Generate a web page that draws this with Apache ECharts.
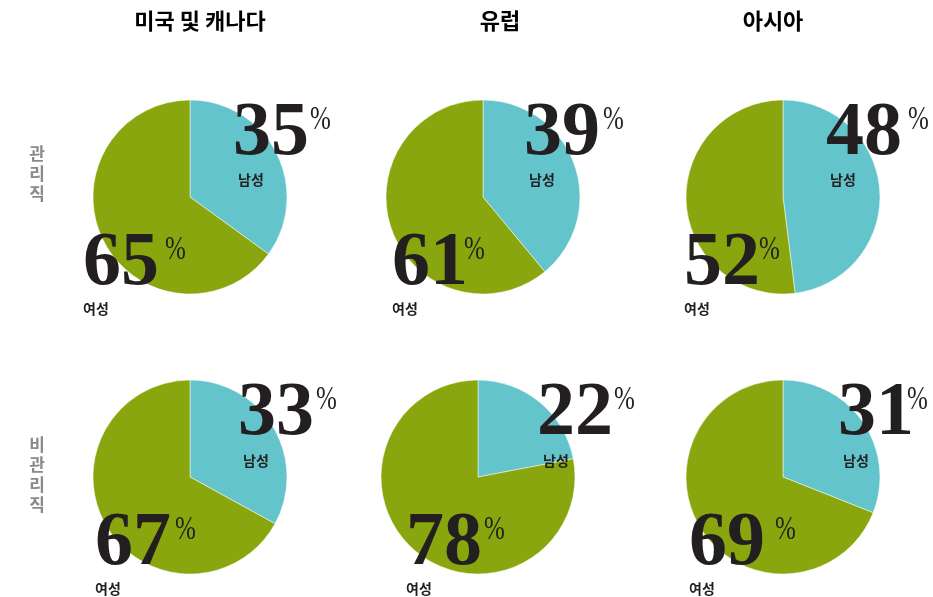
<!DOCTYPE html>
<html>
<head>
<meta charset="utf-8">
<script src="https://cdn.jsdelivr.net/npm/echarts@6/dist/echarts.min.js"></script>
<style>
html,body{margin:0;padding:0;background:#fff;}
#chart{width:933px;height:597px;}
</style>
</head>
<body>
<div id="chart"></div>
<script>
// 지역, 직급, 성별 비율
var regions=['미국 및 캐나다','유럽','아시아'];
var levels=['관리직','비관리직'];
var maleShare=[[35,39,48],[33,22,31]];
var femaleShare=[[65,61,52],[67,78,69]];
var maleName='남성';
var femaleName='여성';

var colorMale='#63c4cb';
var colorFemale='#8aa60e';
var ink='#231f20';

// 레이아웃
var pieX=[[190,483,783],[190,478,783]];
var pieY=[197,477];
var radius=97;
var titleX=[200,500,773];
var maleNumX=[[233,524,826],[238,537,838]];
var malePctX=[[310,603,908],[316,614,907]];
var maleNumY=[165,445];
var maleLabX=[[251,542,843],[256,556,856]];
var maleLabY=[180,461];
var femNumX=[[83,392,684],[95,406,689]];
var femPctX=[[165,464,759],[175,484,775]];
var femNumY=[295,575];
var femLabY=[309,589];
var levelY=[174,475];

var chart=echarts.init(document.getElementById('chart'));

var series=[];
var graphic=[];

function numText(x,y,v){
	return {
		type:'text',
		x:x,y:y,
		z:10,
		style:{
			text:'{n|'+v+'}',
			align:'left',
			verticalAlign:'bottom',
			rich:{
				n:{fontSize:76,fontFamily:'Liberation Serif',fontWeight:'bold',fill:ink,color:ink,lineHeight:62}
			}
		}
	};
}
function pctText(x,y){
	return {
		type:'text',
		x:x,y:y,
		z:10,
		scaleY:1.35,
		style:{
			text:'%',
			align:'left',
			verticalAlign:'top',
			font:'normal 25px "Liberation Serif"',
			fill:ink
		}
	};
}
function labText(x,y,s,align){
	return {
		type:'text',
		x:x,y:y,
		z:10,
		style:{
			text:s,
			align:align,
			verticalAlign:'middle',
			font:'bold 14px "Noto Sans CJK KR"',
			fill:ink
		}
	};
}

for(var r=0;r<levels.length;r++){
	for(var c=0;c<regions.length;c++){
		series.push({
			type:'pie',
			center:[pieX[r][c],pieY[r]],
			radius:radius,
			startAngle:90,
			clockwise:true,
			silent:true,
			label:{show:false},
			labelLine:{show:false},
			itemStyle:{borderColor:'#fff',borderWidth:0.5},
			data:[
				{name:maleName,value:maleShare[r][c],itemStyle:{color:colorMale}},
				{name:femaleName,value:femaleShare[r][c],itemStyle:{color:colorFemale}}
			]
		});
		graphic.push(numText(maleNumX[r][c],maleNumY[r],maleShare[r][c]));
		graphic.push(pctText(malePctX[r][c],maleNumY[r]-62));
		graphic.push(labText(maleLabX[r][c],maleLabY[r],maleName,'center'));
		graphic.push(numText(femNumX[r][c],femNumY[r],femaleShare[r][c]));
		graphic.push(pctText(femPctX[r][c],femNumY[r]-62));
		graphic.push(labText(femNumX[r][c],femLabY[r],femaleName,'left'));
	}
}

for(var c=0;c<regions.length;c++){
	graphic.push({
		type:'text',
		x:titleX[c],y:21,
		style:{text:regions[c],align:'center',verticalAlign:'middle',font:'bold 22px "Noto Sans CJK KR"',fill:'#000'}
	});
}
for(var r=0;r<levels.length;r++){
	graphic.push({
		type:'text',
		x:37,y:levelY[r],
		style:{
			text:levels[r].split('').join('\n'),
			align:'center',
			verticalAlign:'middle',
			font:'bold 17px "Noto Sans CJK KR"',
			lineHeight:20,
			fill:'#8a8a8a'
		}
	});
}

chart.setOption({
	animation:false,
	series:series,
	graphic:graphic
});
</script>
</body>
</html>
